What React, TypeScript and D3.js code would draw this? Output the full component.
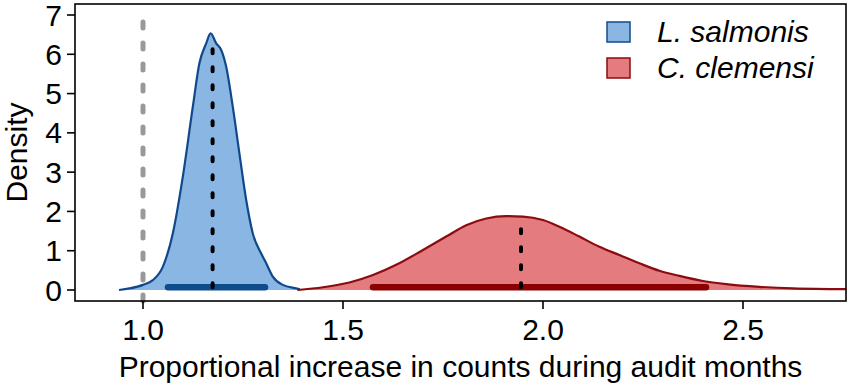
import React from 'react';
import * as d3 from 'd3';

// density curves
const blueX = [0.94, 0.966, 1.0, 1.0245, 1.0495, 1.0745, 1.0995, 1.1245, 1.141, 1.158, 1.169, 1.183, 1.1955, 1.208, 1.2245, 1.241, 1.258, 1.2745, 1.2955, 1.308, 1.3245, 1.3495, 1.383, 1.392];
const blueY = [0.0, 0.04, 0.13, 0.25, 0.59, 1.44, 2.88, 4.66, 5.77, 6.28, 6.53, 6.28, 6.11, 5.68, 4.66, 3.48, 2.29, 1.44, 0.93, 0.68, 0.34, 0.13, 0.04, 0.02];
const redX = [1.386, 1.45, 1.516, 1.575, 1.633, 1.70, 1.758, 1.808, 1.858, 1.908, 1.95, 2.0, 2.041, 2.091, 2.141, 2.191, 2.241, 2.291, 2.341, 2.40, 2.458, 2.541, 2.625, 2.758];
const redY = [0.0, 0.07, 0.19, 0.38, 0.64, 1.02, 1.36, 1.65, 1.82, 1.88, 1.87, 1.78, 1.61, 1.36, 1.10, 0.89, 0.68, 0.49, 0.36, 0.23, 0.15, 0.08, 0.04, 0.02];

const species = ['L. salmonis', 'C. clemensi'];
const means = [1.174, 1.945];
const meanTops = [6.2, 1.6];
const lowers = [1.0625, 1.575];
const uppers = [1.305, 2.4075];
const barLevel = 0.07;
const refLine = 1.0;

const xTicks = [1.0, 1.5, 2.0, 2.5];
const yTicks = [0, 1, 2, 3, 4, 5, 6, 7];

const fills = ['#8ab6e4', '#e47b7e'];
const strokes = ['#10498b', '#8b0b0f'];
const barColors = ['#0e4c8c', '#8b0000'];

const W = 850;
const H = 388;
const m = { left: 75, right: 4, top: 4, bottom: 87 };
const font = '"Liberation Sans", Arial, sans-serif';
const fs = 30;

export default function App() {
  const x = d3.scaleLinear().domain([0.83, 2.7575]).range([m.left, W - m.right]);
  const y = d3.scaleLinear().domain([-0.28, 7.28]).range([H - m.bottom, m.top]);

  const series = [
    blueX.map((v, i) => [v, blueY[i]] as [number, number]),
    redX.map((v, i) => [v, redY[i]] as [number, number]),
  ];

  const area = d3.area<[number, number]>()
    .x(d => x(d[0])).y0(y(0)).y1(d => y(d[1]))
    .curve(d3.curveMonotoneX);
  const line = d3.line<[number, number]>()
    .x(d => x(d[0])).y(d => y(d[1]))
    .curve(d3.curveMonotoneX);

  const plotB = H - m.bottom;

  return (
    <div style={{ position: 'absolute', left: 0, top: 0 }}>
      <svg width={W} height={H} style={{ display: 'block', background: '#fff' }}>
        {series.map((s, i) => (
          <g key={i}>
            <path d={area(s) || ''} fill={fills[i]} />
            <path d={line(s) || ''} fill="none" stroke={strokes[i]} strokeWidth={2.2} />
          </g>
        ))}
        {species.map((_, i) => (
          <line key={'bar' + i} x1={x(lowers[i])} x2={x(uppers[i])} y1={y(barLevel)} y2={y(barLevel)}
            stroke={barColors[i]} strokeWidth={6.5} strokeLinecap="round" />
        ))}
        {species.map((_, i) => (
          <line key={'mean' + i} x1={x(means[i])} x2={x(means[i])} y1={y(barLevel)} y2={y(meanTops[i])}
            stroke="#000" strokeWidth={4} strokeDasharray="4 14" strokeLinecap="round" />
        ))}
        <line x1={x(refLine)} x2={x(refLine)} y1={plotB} y2={m.top + 9}
          stroke="#999" strokeWidth={5} strokeDasharray="6 15" strokeLinecap="round" />

        <rect x={m.left} y={m.top} width={W - m.right - m.left} height={plotB - m.top}
          fill="none" stroke="#000" strokeWidth={1.6} />

        {yTicks.map(t => (
          <g key={'y' + t}>
            <line x1={m.left} x2={m.left - 8} y1={y(t)} y2={y(t)} stroke="#000" strokeWidth={1.6} />
            <text x={m.left - 13} y={y(t) + 10.5} textAnchor="end" fontFamily={font} fontSize={fs}>{t}</text>
          </g>
        ))}
        {xTicks.map(t => (
          <g key={'x' + t}>
            <line x1={x(t)} x2={x(t)} y1={plotB} y2={plotB + 8} stroke="#000" strokeWidth={1.6} />
            <text x={x(t)} y={340} textAnchor="middle" fontFamily={font} fontSize={fs}>{d3.format('.1f')(t)}</text>
          </g>
        ))}
        <text x={(m.left + W - m.right) / 2} y={377} textAnchor="middle" fontFamily={font} fontSize={fs}>
          Proportional increase in counts during audit months
        </text>
        <text transform={`translate(27,${(m.top + plotB) / 2}) rotate(-90)`} textAnchor="middle" fontFamily={font} fontSize={fs}>
          Density
        </text>

        {species.map((s, i) => (
          <g key={'lg' + i} transform={`translate(607,${22 + i * 36})`}>
            <rect x={0} y={0} width={23} height={20} fill={fills[i]} stroke={strokes[i]} strokeWidth={1.5} />
            <text x={50} y={20} fontFamily={font} fontSize={fs} fontStyle="italic">{s}</text>
          </g>
        ))}
      </svg>
    </div>
  );
}
